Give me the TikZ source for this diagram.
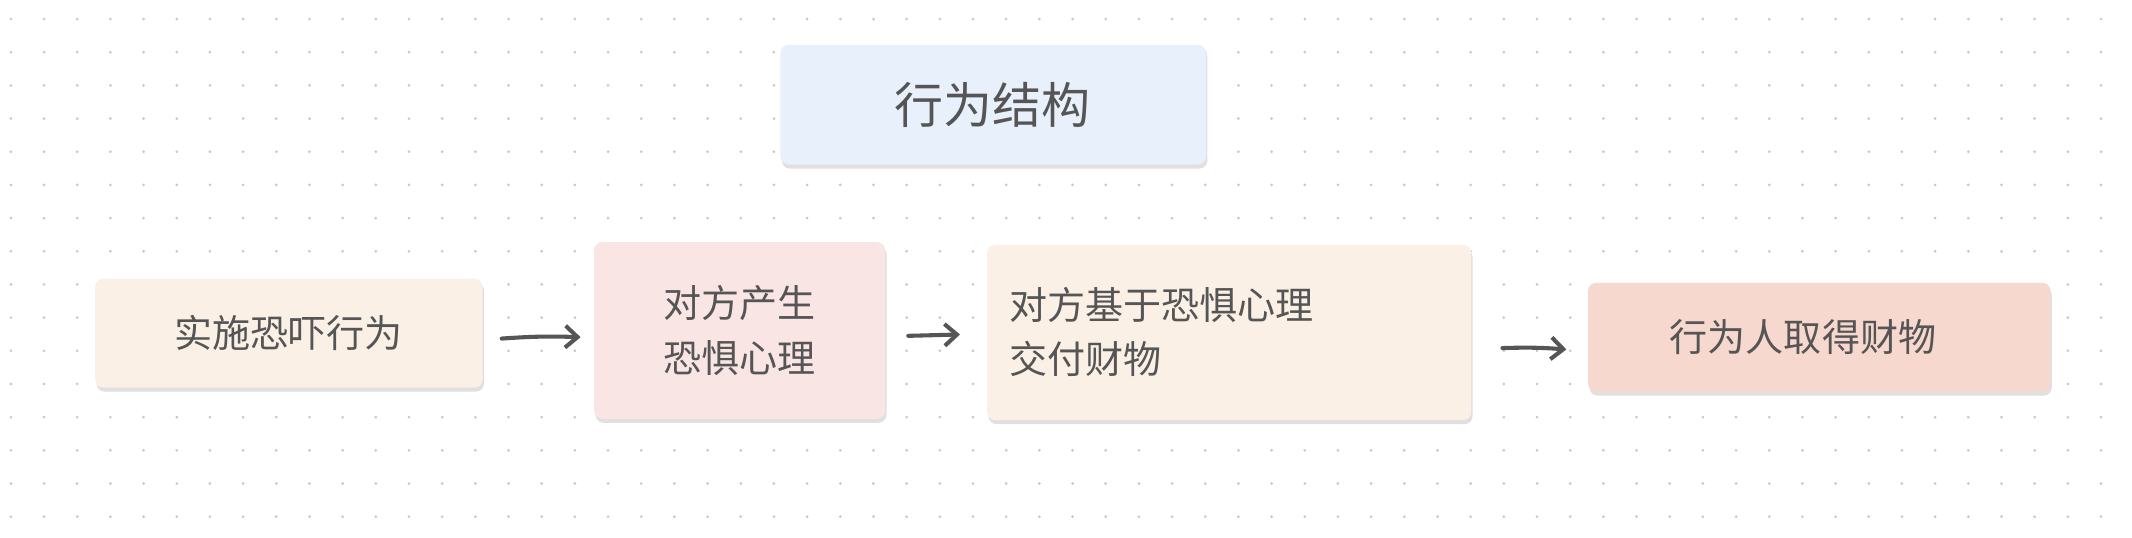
\documentclass[tikz,border=0pt]{standalone}
\usepackage{fontspec}
\newfontfamily\cjk{Noto Sans CJK SC}
\usetikzlibrary{arrows.meta}
\definecolor{txt}{HTML}{555555}
\definecolor{cblue}{HTML}{E8F0FC}
\definecolor{ccream}{HTML}{FBF0E6}
\definecolor{cpink}{HTML}{FAE5E5}
\definecolor{csalmon}{HTML}{F6D8CE}
\definecolor{dotc}{HTML}{C8C8C8}
\tikzset{
 boxs/.style={rounded corners=6pt,draw=none,text=txt,font=\cjk\fontsize{28}{40}\selectfont,
  inner sep=0pt},
 arr/.style={draw=txt,line width=3pt,line cap=round,-{Straight Barb[length=9pt,width=16pt,line width=3pt]}}
}
\begin{document}
\begin{tikzpicture}[x=1pt,y=-1pt]
\useasboundingbox[fill=white] (0,0) rectangle (1568,395);
\foreach \i in {0,...,64}{\foreach \j in {0,...,15}{
 \fill[dotc] (8+24.4*\i,14+24.4*\j) circle (1.1pt);}}
% shadows
\foreach \a/\b/\c/\d in {574/33/887/121,70/205/355/285,437/178/651/308,726/180/1082/309,1168/208/1508/288}{
 \fill[black!12,rounded corners=6pt] (\a+1,\b+3) rectangle (\c+1,\d+3);}
\fill[cblue,rounded corners=6pt] (574,33) rectangle (887,121);
\fill[ccream,rounded corners=6pt] (70,205) rectangle (355,285);
\fill[cpink,rounded corners=6pt] (437,178) rectangle (651,308);
\fill[ccream,rounded corners=6pt] (726,180) rectangle (1082,309);
\fill[csalmon,rounded corners=6pt] (1168,208) rectangle (1508,288);
\node[boxs,font=\cjk\fontsize{36}{40}\selectfont] (t) at (730,77) {行为结构};
\node[boxs] (b1) at (212,245) {实施恐吓行为};
\node[boxs,align=center] (b2) at (544,243) {对方产生\\恐惧心理};
\node[boxs,align=left,anchor=west] (b3) at (742,244) {对方基于恐惧心理\\交付财物};
\node[boxs] (b4) at (1326,248) {行为人取得财物};
\coordinate (a1s) at (369,249); \coordinate (a1e) at (427,248);
\coordinate (a2s) at (668,247); \coordinate (a2e) at (706,246);
\coordinate (a3s) at (1105,256); \coordinate (a3e) at (1152,257);
\draw[arr] (a1s) to[bend left=3] (a1e);
\draw[arr] (a2s) -- (a2e);
\draw[arr] (a3s) to[bend left=3] (a3e);
\end{tikzpicture}
\end{document}
